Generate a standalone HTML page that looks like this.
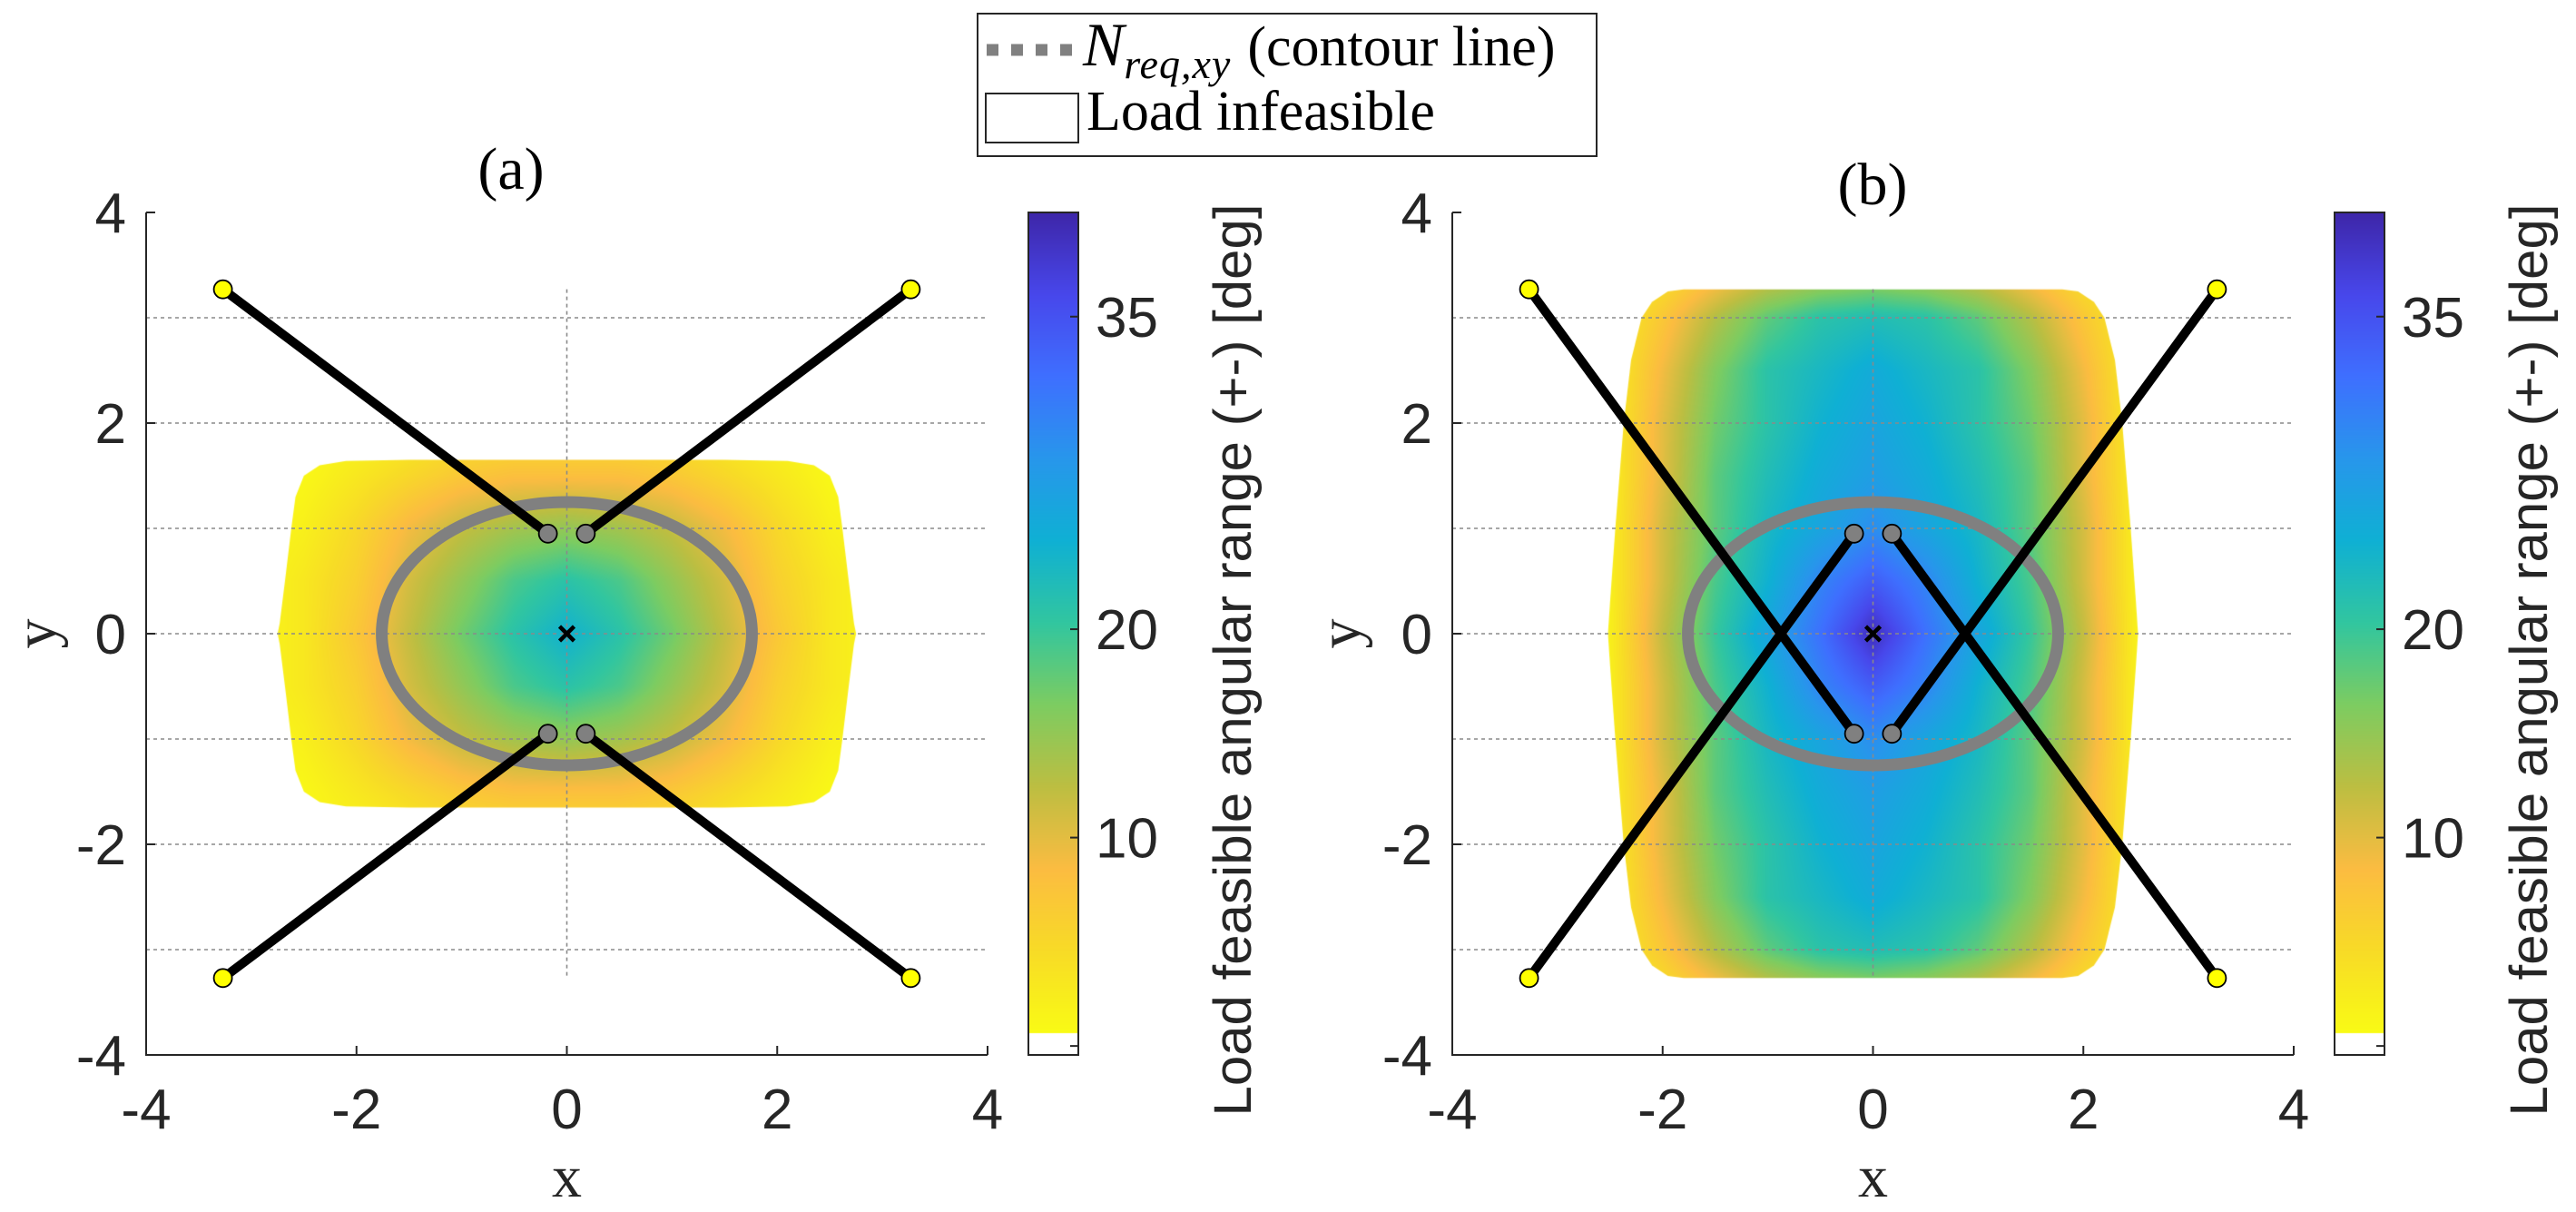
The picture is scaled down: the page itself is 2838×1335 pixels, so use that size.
<!DOCTYPE html>
<html><head><meta charset="utf-8"><style>
body{margin:0;background:#fff;}
#wrap{position:relative;width:2838px;height:1335px;overflow:hidden;background:#fff;}
canvas,svg{position:absolute;left:0;top:0;}
</style></head><body>
<div id="wrap">
<canvas id="cv" width="2838" height="1335"></canvas>
<svg id="sv" width="2838" height="1335" xmlns="http://www.w3.org/2000/svg"></svg>
</div>
<script>
// ---------- data ----------
const gridX = [-3,-2.5,-2,-1.5,-1,-0.5,0,0.5,1,1.5,2,2.5,3];
const gridYA = [2,1.5,1,0.5,0,-0.5,-1,-1.5,-2];
const valuesA = [
 [1,1,1,2,3,3,3,3,3,2,1,1,1],
 [1,1,3,5,7,8,8,8,7,5,3,1,1],
 [1,2,5,9,12,14,15,14,12,9,5,2,1],
 [1,3,6,11,15,19,21,19,15,11,6,3,1],
 [1,3,7,12,17,21,24,21,17,12,7,3,1],
 [1,3,6,11,15,19,21,19,15,11,6,3,1],
 [1,2,5,9,12,14,15,14,12,9,5,2,1],
 [1,1,3,5,7,8,8,8,7,5,3,1,1],
 [1,1,1,2,3,3,3,3,3,2,1,1,1]
];
const gridYB = [3.5,3,2.5,2,1.5,1,0.5,0,-0.5,-1,-1.5,-2,-2.5,-3,-3.5];
const valuesB = [
 [1,1,3,6,9,11,12,11,9,6,3,1,1],
 [1,2,7,13,18,21,22,21,18,13,7,2,1],
 [1,2,9,16,21,23,25,23,21,16,9,2,1],
 [1,2,10,17,21,24,26,24,21,17,10,2,1],
 [1,2,10,18,22,25,27,25,22,18,10,2,1],
 [1,2,11,18,23,26,29,26,23,18,11,2,1],
 [1,2,11,19,24,30,34,30,24,19,11,2,1],
 [1,2,12,20,26,32,39,32,26,20,12,2,1],
 [1,2,11,19,24,30,34,30,24,19,11,2,1],
 [1,2,11,18,23,26,29,26,23,18,11,2,1],
 [1,2,10,18,22,25,27,25,22,18,10,2,1],
 [1,2,10,17,21,24,26,24,21,17,10,2,1],
 [1,2,9,16,21,23,25,23,21,16,9,2,1],
 [1,2,7,13,18,21,22,21,18,13,7,2,1],
 [1,1,3,6,9,11,12,11,9,6,3,1,1]
];
const boundYA = [1.65,1.64,1.6,1.5,1.3,1.0,0.5,0.1,0];
const boundXA = [1.5,2.1,2.35,2.5,2.58,2.62,2.68,2.73,2.75];
const boundYB = [3.27,3.25,3.15,3.0,2.6,2.0,1.0,0.3,0];
const boundXB = [1.8,1.95,2.1,2.2,2.3,2.37,2.45,2.5,2.52];
const anchorsX = [-3.27,3.27,-3.27,3.27];
const anchorsY = [3.27,3.27,-3.27,-3.27];
const platA_X = [-0.18,0.18,-0.18,0.18];
const platA_Y = [0.95,0.95,-0.95,-0.95];
const platB_X = [-0.18,0.18,-0.18,0.18];
const platB_Y = [-0.95,-0.95,0.95,0.95];
const ellipseR = [1.76,1.25];
const axisTicks = [-4,-2,0,2,4];
const gridLinesY = [-3,-2,-1,0,1,2,3];
const cbTicks = [0,10,20,35];
const cbTickLabels = ["","10","20","35"];
const cLim = [-0.43,40];
const cWhite = 0.6;

const panels = [
 {L:161,T:234,W:927,H:928,cbL:1133,cbW:55,lbl:"(a)",tx:563,ty:186,ylx:45,vals:valuesA,gy:gridYA,by:boundYA,bx:boundXA,px:platA_X,py:platA_Y,labX:1378},
 {L:1600,T:234,W:927,H:928,cbL:2572,cbW:55,lbl:"(b)",tx:2063,ty:203,ylx:1482,vals:valuesB,gy:gridYB,by:boundYB,bx:boundXB,px:platB_X,py:platB_Y,labX:2806}
];
const parula=[[0.2422,0.1504,0.6603],[0.2803,0.2782,0.9221],[0.2440,0.4358,0.9988],[0.1540,0.5902,0.9218],[0.0590,0.6900,0.8300],[0.1938,0.7758,0.6251],[0.4900,0.8000,0.3800],[0.7400,0.7440,0.2560],[0.9856,0.7372,0.2537],[0.9700,0.8600,0.1500],[0.9769,0.9839,0.0805]];
function colorOf(v){
  if(v<cWhite) return [255,255,255];
  let t=1-(v-cWhite)/(cLim[1]-cWhite); t=Math.max(0,Math.min(1,t));
  const s=t*10, i=Math.min(9,Math.floor(s)), f=s-i;
  const a=parula[i], b=parula[i+1];
  return [0,1,2].map(k=>Math.round(255*(a[k]+(b[k]-a[k])*f)));
}
function interp(arr,v){
  const n=arr.length, asc=arr[1]>arr[0];
  for(let i=0;i<n-1;i++){
    const a=arr[i],b=arr[i+1];
    if(asc? (v>=a&&v<=b):(v<=a&&v>=b)) return i+(v-a)/(b-a);
  }
  return asc? (v<arr[0]?0:n-1):(v>arr[0]?0:n-1);
}
function sample(p,x,y){
  const fi=interp(gridX,x), fj=interp(p.gy,y);
  const i=Math.min(gridX.length-2,Math.floor(fi)), j=Math.min(p.gy.length-2,Math.floor(fj));
  const u=fi-i, w=fj-j, V=p.vals;
  return V[j][i]*(1-u)*(1-w)+V[j][i+1]*u*(1-w)+V[j+1][i]*(1-u)*w+V[j+1][i+1]*u*w;
}
const cv=document.getElementById('cv'), ctx=cv.getContext('2d');
const NS="http://www.w3.org/2000/svg", sv=document.getElementById('sv');
function el(tag,attrs,parent){
  const e=document.createElementNS(NS,tag);
  for(const k in attrs) e.setAttribute(k,attrs[k]);
  (parent||sv).appendChild(e); return e;
}
panels.forEach((p,pi)=>{
  const X=x=>p.L+(x+4)*p.W/8, Y=y=>p.T+(4-y)*p.H/8;
  const off=document.createElement('canvas'); off.width=p.W; off.height=p.H;
  const oc=off.getContext('2d'), img=oc.createImageData(p.W,p.H);
  for(let py=0;py<p.H;py++){const y=4-(py+0.5)*8/p.H;
    for(let px=0;px<p.W;px++){const x=(px+0.5)*8/p.W-4;
      const c=colorOf(sample(p,x,y)), o=(py*p.W+px)*4;
      img.data[o]=c[0];img.data[o+1]=c[1];img.data[o+2]=c[2];img.data[o+3]=255;}}
  oc.putImageData(img,0,0);
  ctx.save(); ctx.beginPath();
  const n=p.by.length, pts=[];
  for(let k=0;k<n;k++) pts.push([p.bx[k],p.by[k]]);
  for(let k=n-1;k>=0;k--) pts.push([p.bx[k],-p.by[k]]);
  for(let k=0;k<n;k++) pts.push([-p.bx[k],-p.by[k]]);
  for(let k=n-1;k>=0;k--) pts.push([-p.bx[k],p.by[k]]);
  pts.forEach((q,k)=>{k?ctx.lineTo(X(q[0]),Y(q[1])):ctx.moveTo(X(q[0]),Y(q[1]));});
  ctx.closePath(); ctx.clip(); ctx.drawImage(off,p.L,p.T); ctx.restore();
  for(let py=0;py<p.H;py++){const v=cLim[1]-(py+0.5)/p.H*(cLim[1]-cLim[0]);
    const c=colorOf(v); ctx.fillStyle=`rgb(${c[0]},${c[1]},${c[2]})`; ctx.fillRect(p.cbL,p.T+py,p.cbW,1);}
  const CB=v=>p.T+(cLim[1]-v)/(cLim[1]-cLim[0])*p.H;
  const g=el('g',{});  
  gridLinesY.forEach(gv=>{const l=el('line',{x1:p.L,x2:p.L+p.W,y1:Y(gv),y2:Y(gv),stroke:'#8a8a8a','stroke-width':1.6,'stroke-dasharray':'4 4'},g);
     });
  const vl=el('line',{x1:X(0),x2:X(0),y1:Y(3.27),y2:Y(-3.27),stroke:'#8a8a8a','stroke-width':1.6,'stroke-dasharray':'4 4'},g);
   
  let d=''; for(let k=0;k<=180;k++){const a=k/180*2*Math.PI; d+=(k?'L':'M')+X(ellipseR[0]*Math.cos(a)).toFixed(1)+' '+Y(ellipseR[1]*Math.sin(a)).toFixed(1);}
  const ep=el('path',{d:d+'Z',fill:'none',stroke:'#808080','stroke-width':13},g);
   
  for(let k=0;k<4;k++){
    const c=el('line',{x1:X(anchorsX[k]),y1:Y(anchorsY[k]),x2:X(p.px[k]),y2:Y(p.py[k]),stroke:'#000','stroke-width':10},g);
     
  }
  for(let k=0;k<4;k++){
    const a=el('circle',{cx:X(anchorsX[k]),cy:Y(anchorsY[k]),r:10,fill:'#ffff00',stroke:'#000','stroke-width':1.8},g);
     
    const b=el('circle',{cx:X(p.px[k]),cy:Y(p.py[k]),r:10,fill:'#808080',stroke:'#000','stroke-width':1.8},g);
     
  }
  const cx=X(0),cy=Y(0);
  const m=el('path',{d:`M${cx-8} ${cy-8}L${cx+8} ${cy+8}M${cx+8} ${cy-8}L${cx-8} ${cy+8}`,stroke:'#000','stroke-width':4.5},g);
   
  const ax=el('path',{d:`M${p.L} ${p.T}V${p.T+p.H}H${p.L+p.W}`,fill:'none',stroke:'#262626','stroke-width':2},g);
   
  axisTicks.forEach(t=>{
    el('line',{x1:X(t),x2:X(t),y1:p.T+p.H,y2:p.T+p.H-10,stroke:'#262626','stroke-width':2},g);
    el('line',{x1:p.L,x2:p.L+10,y1:Y(t),y2:Y(t),stroke:'#262626','stroke-width':2},g);
    const tx=el('text',{x:X(t),y:1243,'text-anchor':'middle','font-family':'Liberation Sans, sans-serif','font-size':62,fill:'#262626'},g);
    tx.textContent=t;  
    const ty=el('text',{x:p.L-22,y:Y(t)+22,'text-anchor':'end','font-family':'Liberation Sans, sans-serif','font-size':62,fill:'#262626'},g);
    ty.textContent=t;  
  });
  const xl=el('text',{x:X(0),y:1318,'text-anchor':'middle','font-family':'Liberation Serif, serif','font-size':66,fill:'#262626'},g);
  xl.textContent='x';  
  const yl=el('text',{x:0,y:0,transform:`translate(${p.ylx+16},${Y(0)}) rotate(-90)`,'text-anchor':'middle','font-family':'Liberation Serif, serif','font-size':66,fill:'#262626'},g);
  yl.textContent='y';  
  const tt=el('text',{x:p.tx,y:p.ty+22,'text-anchor':'middle','font-family':'Liberation Serif, serif','font-size':66,fill:'#000'},g);
  tt.textContent=p.lbl;  
  const cb=el('rect',{x:p.cbL,y:p.T,width:p.cbW,height:p.H,fill:'none',stroke:'#262626','stroke-width':2},g);
   
  cbTicks.forEach((t,k)=>{
    el('line',{x1:p.cbL+p.cbW,x2:p.cbL+p.cbW-9,y1:CB(t),y2:CB(t),stroke:'#262626','stroke-width':2},g);
    if(cbTickLabels[k]){const ct=el('text',{x:p.cbL+p.cbW+19,y:CB(t)+22,'font-family':'Liberation Sans, sans-serif','font-size':62,fill:'#262626'},g);
      ct.textContent=cbTickLabels[k];  }
  });
  const cl=el('text',{x:0,y:0,transform:`translate(${p.labX},${727}) rotate(-90)`,'text-anchor':'middle','font-family':'Liberation Sans, sans-serif','font-size':58,fill:'#262626',textLength:1005,lengthAdjust:'spacingAndGlyphs'},g);
  cl.textContent='Load feasible angular range (+-) [deg]';  
});
const lg=el('g',{});  
el('rect',{x:1077,y:15,width:682,height:157,fill:'#fff',stroke:'#262626','stroke-width':2},lg);
const ld=el('line',{x1:1087,x2:1183,y1:55,y2:55,stroke:'#808080','stroke-width':13,'stroke-dasharray':'13 14'},lg);
 
const lt=el('text',{x:1193,y:72,'font-family':'Liberation Serif, serif','font-size':62,fill:'#000'},lg);
lt.innerHTML='<tspan font-style="italic" font-size="68">N</tspan><tspan font-style="italic" font-size="46" dy="14" letter-spacing="1">req,xy</tspan><tspan dy="-14" dx="18">(contour line)</tspan>';
 
const lb=el('rect',{x:1086,y:103,width:102,height:54,fill:'#fff',stroke:'#262626','stroke-width':2},lg);
 
const lt2=el('text',{x:1197,y:143,'font-family':'Liberation Serif, serif','font-size':62,fill:'#000'},lg);
lt2.textContent='Load infeasible';  
</script>
</body></html>
